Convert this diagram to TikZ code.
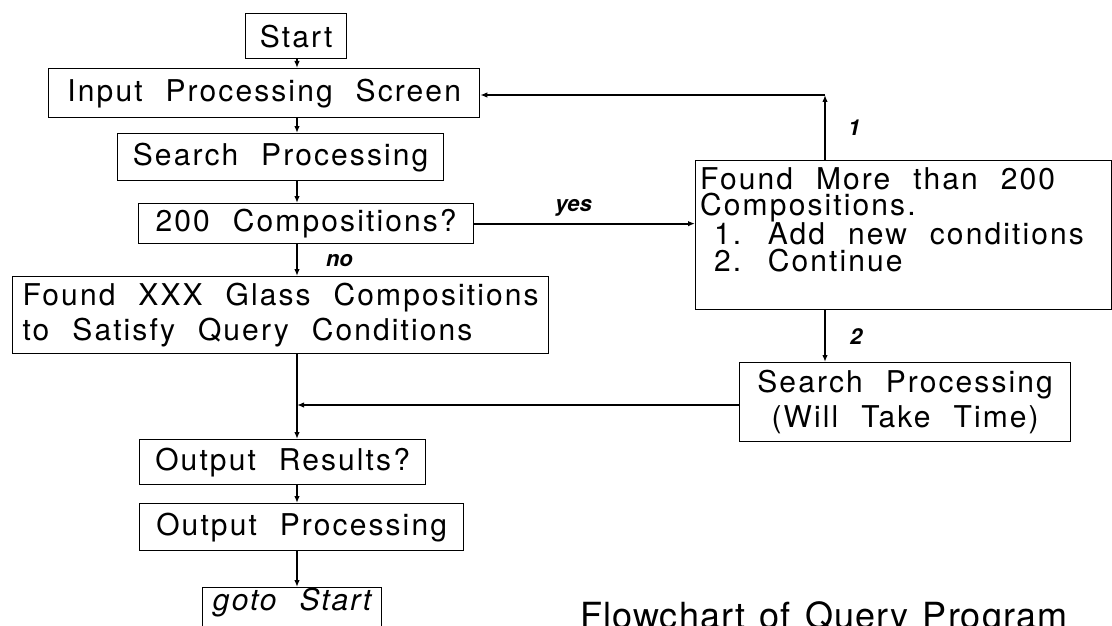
\documentclass[tikz,border=0pt]{standalone}
\usepackage{fontspec}
\setmainfont{TeX Gyre Heros}[LetterSpace=7,WordSpace=2.2]
\newfontfamily\labfont{TeX Gyre Heros}
\newfontfamily\titlefont{TeX Gyre Heros}[LetterSpace=3,WordSpace=1.3]
\usetikzlibrary{arrows.meta}
\tikzset{
  box/.style={draw, line width=1.3pt, inner sep=0pt, anchor=north west,
    font=\fontsize{30}{26}\selectfont},
  conn/.style={line width=2.1pt, -{Latex[length=7pt,width=5.5pt]}},
  lab/.style={font=\labfont\bfseries\itshape\fontsize{22}{24}\selectfont, inner sep=0pt}
}
\begin{document}
\begin{tikzpicture}[x=1pt,y=-1pt]
\useasboundingbox (0,0) rectangle (1112,626);
\fill[white] (0,0) rectangle (1112,626);
\coordinate (mx) at (297,0);
\coordinate (rx) at (825,0);
\coordinate (ret) at (825,95);
\coordinate (jn) at (297,405);

\node[box, minimum width=101pt, minimum height=45pt] (start) at (245,13) {Start};
\node[box, minimum width=431pt, minimum height=49pt] (input) at (48,68) {Input Processing Screen};
\node[box, minimum width=326pt, minimum height=47pt] (search) at (117,133) {Search Processing};
\node[box, minimum width=335pt, minimum height=40pt] (comp) at (138,203) {200 Compositions?};
\node[box, minimum width=536pt, minimum height=77pt, align=left,
  font=\fontsize{30}{35}\selectfont] (found) at (12,276)
  {Found XXX Glass Compositions\\to Satisfy Query Conditions};
\node[box, minimum width=416pt, minimum height=149pt] (more) at (695,160) {};
\node[anchor=north west, inner sep=0pt, align=left,
  font=\fontsize{30}{26.5}\selectfont] (moretext) at (700,167)
  {Found More than 200\\Compositions.\\\hspace*{14pt}1. Add new conditions\\\hspace*{14pt}2. Continue};
\node[box, minimum width=331pt, minimum height=79pt, align=center,
  font=\fontsize{30}{35}\selectfont] (search2) at (739,362)
  {Search Processing\\(Will Take Time)};
\node[box, minimum width=286pt, minimum height=45pt] (outres) at (139,439) {Output Results?};
\node[box, minimum width=324pt, minimum height=47pt] (outproc) at (139,503) {Output Processing};
\node[box, minimum width=179pt, inner ysep=3pt, text height=20pt, text depth=27pt,
  font=\itshape\fontsize{30}{26}\selectfont] (goto) at (202,587) {goto Start};
\node[anchor=base west, inner sep=0pt, font=\titlefont\fontsize{36}{40}\selectfont]
  (title) at (580,628) {Flowchart of Query Program};

\draw[conn] (start.south -| mx) -- (input.north -| mx);
\draw[conn] (input.south -| mx) -- (search.north -| mx);
\draw[conn] (search.south -| mx) -- (comp.north -| mx);
\draw[conn] (comp.south -| mx) -- node[lab, right=28pt] {no} (found.north -| mx);
\draw[conn] (comp.east) -- node[lab, above=6pt, pos=0.45] {yes} (more.west |- comp.east);
\draw[conn] (more.north -| rx) -- node[lab, right=22pt] {1} (ret);
\draw[conn] (ret) -- (input.east |- ret);
\draw[conn] (more.south -| rx) -- node[lab, right=24pt] {2} (search2.north -| rx);
\draw[conn] (search2.west |- jn) -- (jn);
\draw[conn] (found.south -| mx) -- (outres.north -| mx);
\draw[conn] (outres.south -| mx) -- (outproc.north -| mx);
\draw[conn] (outproc.south -| mx) -- (goto.north -| mx);
\end{tikzpicture}
\end{document}
